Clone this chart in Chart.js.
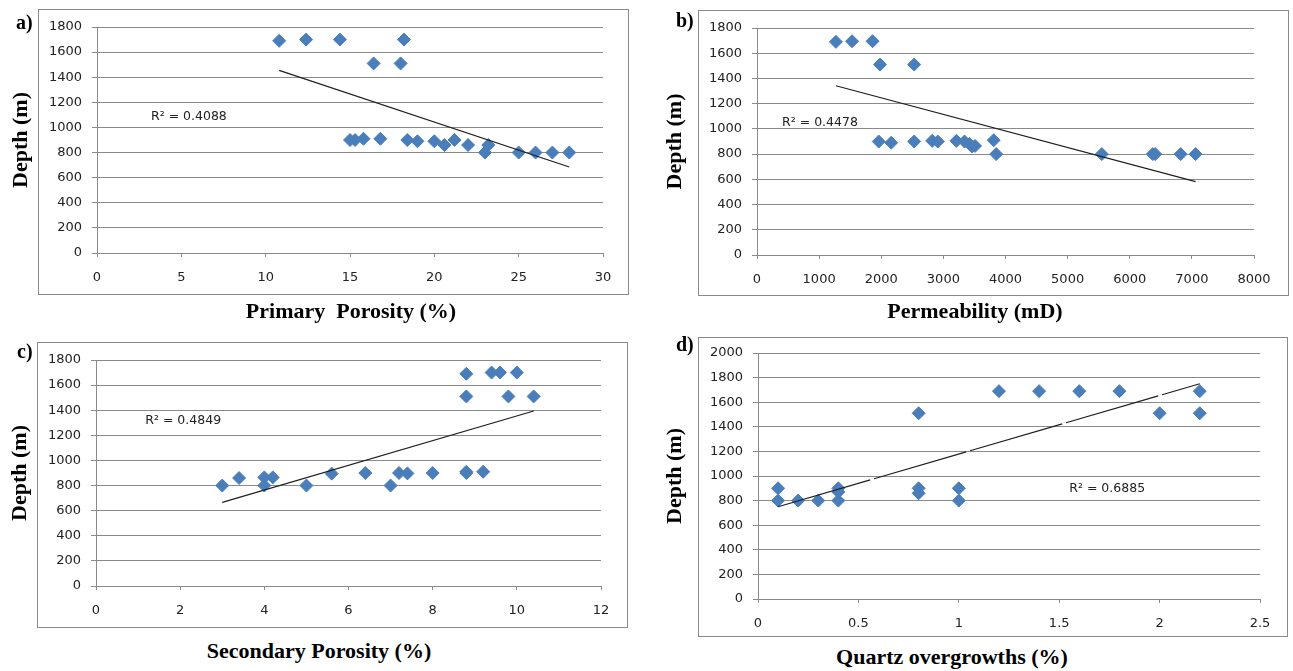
<!DOCTYPE html>
<html>
<head>
<meta charset="utf-8">
<title>Depth vs reservoir properties</title>
<script src="https://cdn.jsdelivr.net/npm/chart.js@4.4.0/dist/chart.umd.min.js"></script>
<style>
  html, body { margin: 0; padding: 0; background: #fff; }
  body { width: 1293px; height: 671px; position: relative; overflow: hidden; }
  .frame { position: absolute; box-sizing: border-box; border: 1px solid #8a8a8a; }
  canvas { position: absolute; }
  .tag, .xtitle {
    position: absolute;
    font-family: "Liberation Serif", "Times New Roman", serif;
    font-weight: bold;
    color: #000;
    white-space: pre;
  }
  .tag { font-size: 20px; line-height: 20px; }
  .xtitle { font-size: 22px; line-height: 26px; width: 400px; text-align: center; }
</style>
</head>
<body>

<div class="frame" style="left:38px;top:9px;width:591px;height:286px"></div>
<div class="frame" style="left:698px;top:10px;width:591px;height:286px"></div>
<div class="frame" style="left:37px;top:342px;width:591px;height:286px"></div>
<div class="frame" style="left:698px;top:337px;width:590px;height:300px"></div>

<canvas id="chart_a"></canvas>
<canvas id="chart_b"></canvas>
<canvas id="chart_c"></canvas>
<canvas id="chart_d"></canvas>

<div class="tag" style="left:16px;top:12px">a)</div>
<div class="tag" style="left:676px;top:10px">b)</div>
<div class="tag" style="left:17px;top:341px">c)</div>
<div class="tag" style="left:676px;top:334px">d)</div>

<div class="xtitle" style="left:151px;top:298px">Primary  Porosity (%)</div>
<div class="xtitle" style="left:775px;top:298px">Permeability (mD)</div>
<div class="xtitle" style="left:119px;top:638px">Secondary Porosity (%)</div>
<div class="xtitle" style="left:752px;top:644px">Quartz overgrowths (%)</div>

<script>
// a) primary porosity
const porosityA = [10.8, 12.4, 14.4, 18.2, 16.4, 18.0, 15.0, 15.3, 15.8, 16.8, 18.4, 19.0, 20.0, 20.6, 21.2, 22.0, 23.0, 23.2, 25.0, 26.0, 27.0, 28.0];
const depthA = [1690, 1700, 1700, 1700, 1510, 1510, 900, 900, 910, 910, 900, 890, 890, 860, 900, 860, 800, 860, 800, 800, 800, 800];
const trendAx = [10.8, 28];
const trendAy = [1455, 685];

// b) permeability
const permB = [1270, 1530, 1860, 1980, 2530, 1960, 2160, 2530, 2820, 2910, 3210, 3340, 3420, 3460, 3510, 3810, 3850, 5550, 6370, 6410, 6820, 7060];
const depthB = [1690, 1695, 1695, 1510, 1510, 900, 890, 900, 905, 900, 905, 900, 880, 860, 865, 910, 800, 800, 800, 800, 800, 800];
const trendBx = [1270, 7060];
const trendBy = [1342, 582];

// c) secondary porosity
const secPorC = [3.0, 3.4, 4.0, 4.0, 4.2, 5.0, 5.6, 6.4, 7.0, 7.2, 7.4, 8.0, 8.8, 8.8, 9.2, 8.8, 8.8, 9.4, 9.6, 10.0, 9.8, 10.4];
const depthC = [800, 860, 865, 800, 865, 800, 895, 900, 800, 900, 897, 900, 900, 910, 910, 1690, 1510, 1700, 1700, 1700, 1510, 1510];
const trendCx = [3.0, 10.4];
const trendCy = [666, 1394];

// d) quartz overgrowths
const quartzD = [0.1, 0.1, 0.2, 0.3, 0.4, 0.4, 0.4, 0.8, 0.8, 0.8, 1.0, 1.0, 1.2, 1.4, 1.6, 1.8, 2.0, 2.2, 2.2];
const depthD = [900, 800, 800, 800, 900, 870, 800, 1510, 900, 860, 900, 800, 1690, 1690, 1690, 1690, 1510, 1690, 1510];
const trendDx = [0.1, 2.2];
const trendDy = [750, 1750];

// tick labels
const yTicks1800 = ['0', '200', '400', '600', '800', '1000', '1200', '1400', '1600', '1800'];
const yTicks2000 = ['0', '200', '400', '600', '800', '1000', '1200', '1400', '1600', '1800', '2000'];
const xTicksA = ['0', '5', '10', '15', '20', '25', '30'];
const xTicksB = ['0', '1000', '2000', '3000', '4000', '5000', '6000', '7000', '8000'];
const xTicksC = ['0', '2', '4', '6', '8', '10', '12'];
const xTicksD = ['0', '0.5', '1', '1.5', '2', '2.5'];

// R² labels (text, anchored in data units)
const r2Text = ['R\u00B2 = 0.4088', 'R\u00B2 = 0.4478', 'R\u00B2 = 0.4849', 'R\u00B2 = 0.6885'];
const r2AtX = [3.2, 403, 1.17, 1.55];
const r2AtY = [1083, 1049, 1317, 896];

const BLUE = '#4a7ebb';
const GRID = '#8a8a8a';
const TICK_FONT = { family: '"DejaVu Sans", sans-serif', size: 13 };

function toPoints(xs, ys) {
  return xs.map((x, i) => ({ x: x, y: ys[i] }));
}

const r2Plugin = {
  id: 'r2',
  afterDatasetsDraw(chart, args, opts) {
    const { ctx, scales } = chart;
    ctx.save();
    ctx.font = '12.5px "DejaVu Sans", sans-serif';
    ctx.fillStyle = '#222';
    ctx.textBaseline = 'middle';
    ctx.textAlign = 'left';
    ctx.fillText(opts.text, scales.x.getPixelForValue(opts.x), scales.y.getPixelForValue(opts.y));
    ctx.restore();
  }
};

function linearAxis(labels) {
  return {
    min: Number(labels[0]),
    max: Number(labels[labels.length - 1]),
    stepSize: Number(labels[1]) - Number(labels[0])
  };
}

// box = canvas rect on the page, area = wanted plot area on the page
function renderPanel(id, box, area, titleX, points, trend, yLabels, xLabels, r2, dashed) {
  const canvas = document.getElementById(id);
  canvas.width = box.w;
  canvas.height = box.h;
  canvas.style.left = box.left + 'px';
  canvas.style.top = box.top + 'px';

  const yAxisWidth = area.l - box.left;
  const xAxisHeight = box.top + box.h - area.b;
  const yRange = linearAxis(yLabels);
  const xRange = linearAxis(xLabels);

  new Chart(canvas.getContext('2d'), {
    type: 'scatter',
    data: {
      datasets: [
        {
          label: 'Trend',
          data: trend,
          showLine: true,
          borderColor: '#1e1e1e',
          borderWidth: 1.2,
          borderDash: dashed ? [96, 4] : [],
          pointRadius: 0,
          fill: false
        },
        {
          label: 'Depth',
          data: points,
          pointStyle: 'rectRot',
          pointRadius: 6.5,
          backgroundColor: BLUE,
          borderColor: BLUE,
          borderWidth: 1
        }
      ]
    },
    options: {
      responsive: false,
      animation: false,
      devicePixelRatio: 1,
      layout: {
        padding: { left: 0, top: area.t - box.top, right: box.left + box.w - area.r, bottom: 0 }
      },
      scales: {
        x: {
          type: 'linear',
          min: xRange.min,
          max: xRange.max,
          afterFit: scale => { scale.height = xAxisHeight; },
          ticks: {
            stepSize: xRange.stepSize,
            color: '#222',
            font: TICK_FONT,
            padding: 13,
            maxRotation: 0,
            callback: (v, i) => xLabels[i]
          },
          grid: { drawOnChartArea: false, drawTicks: true, tickLength: 4, color: GRID },
          border: { display: true, color: GRID, width: 1 }
        },
        y: {
          type: 'linear',
          min: yRange.min,
          max: yRange.max,
          afterFit: scale => { scale.width = yAxisWidth; },
          ticks: {
            stepSize: yRange.stepSize,
            color: '#222',
            font: TICK_FONT,
            padding: 10,
            callback: (v, i) => yLabels[i]
          },
          grid: { color: GRID, lineWidth: 1, drawTicks: true, tickLength: 5 },
          border: { display: true, color: GRID, width: 1 },
          title: {
            display: true,
            text: 'Depth (m)',
            color: '#000',
            font: { family: '"Liberation Serif", "Times New Roman", serif', weight: 'bold', size: 22 },
            padding: { top: titleX - box.left - 13.2, bottom: 0 }
          }
        }
      },
      plugins: {
        legend: { display: false },
        tooltip: { enabled: false },
        r2: r2
      }
    },
    plugins: [r2Plugin]
  });
}

renderPanel('chart_a',
  { left: 0, top: 9, w: 630, h: 291 }, { l: 97, t: 27, r: 603, b: 253 }, 21,
  toPoints(porosityA, depthA), toPoints(trendAx, trendAy), yTicks1800, xTicksA,
  { text: r2Text[0], x: r2AtX[0], y: r2AtY[0] }, false);

renderPanel('chart_b',
  { left: 650, top: 9, w: 643, h: 291 }, { l: 757, t: 28, r: 1254, b: 255 }, 675,
  toPoints(permB, depthB), toPoints(trendBx, trendBy), yTicks1800, xTicksB,
  { text: r2Text[1], x: r2AtX[1], y: r2AtY[1] }, false);

renderPanel('chart_c',
  { left: 0, top: 338, w: 640, h: 292 }, { l: 96, t: 360, r: 601, b: 586 }, 20,
  toPoints(secPorC, depthC), toPoints(trendCx, trendCy), yTicks1800, xTicksC,
  { text: r2Text[2], x: r2AtX[2], y: r2AtY[2] }, false);

renderPanel('chart_d',
  { left: 650, top: 333, w: 643, h: 307 }, { l: 758, t: 353, r: 1260, b: 599 }, 675,
  toPoints(quartzD, depthD), toPoints(trendDx, trendDy), yTicks2000, xTicksD,
  { text: r2Text[3], x: r2AtX[3], y: r2AtY[3] }, true);
</script>
</body>
</html>
